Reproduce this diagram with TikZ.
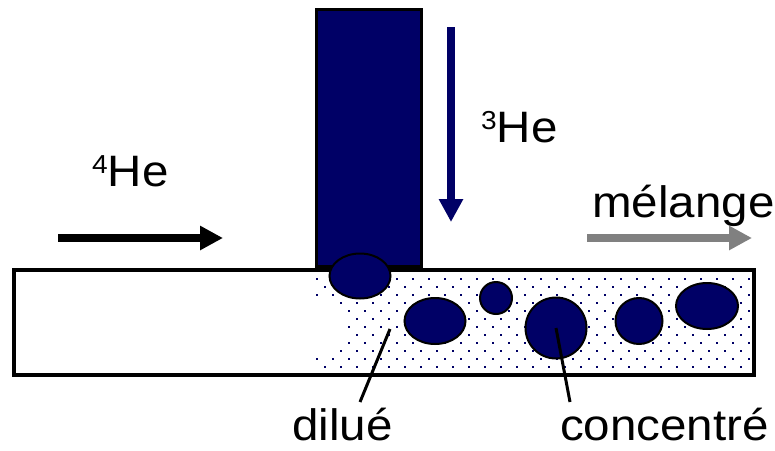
\documentclass[tikz,border=0pt]{standalone}
\usepackage{fontspec}
\setmainfont{Liberation Sans}[FakeStretch=1.08]
\usetikzlibrary{arrows.meta,shapes.geometric}
\definecolor{navy}{RGB}{0,0,102}
\definecolor{flowgray}{RGB}{128,128,128}
\newcommand{\isotope}[1]{{\fontsize{26}{26}\selectfont\raisebox{13pt}{#1}}}
\begin{document}
\begin{tikzpicture}[x=1pt,y=-1pt,
  bubble/.style={ellipse,draw=black,fill=navy,line width=2pt,inner sep=0pt},
  lbl/.style={anchor=base west,inner sep=0pt,font=\fontsize{44}{52}\selectfont},
  flow/.style={line width=8pt,-{Triangle[width=23pt,length=23pt]}},
  leader/.style={line width=3pt,black}]
\useasboundingbox (0,0) rectangle (775,450);
\fill[white] (0,0) rectangle (775,450);
% dotted mixture region
\foreach \yy/\xs in {271/325,279/317,287/325,295/317,303/341,311/349,319/357,327/349,335/357,343/349,351/341,359/317,367/325} {
  \pgfmathtruncatemacro{\xn}{\xs+16}
  \foreach \xx in {\xs,\xn,...,749} \fill[navy] (\xx-1,\yy-1) rectangle ++(2,2);
}
% tube
\node[draw=black,fill=navy,line width=3pt,minimum width=105pt,minimum height=257pt,inner sep=0pt,anchor=south west] (tube) at (315,268) {};
% bath
\node[draw=black,line width=4pt,minimum width=740pt,minimum height=105pt,inner sep=0pt,anchor=north west] (bath) at (12,268) {};
% bubbles
\node[bubble,minimum width=61pt,minimum height=45pt] (b1) at (360,276) {};
\node[bubble,minimum width=61pt,minimum height=46pt] (b2) at (435,321) {};
\node[bubble,minimum width=32pt,minimum height=32pt] (b3) at (496,298) {};
\node[bubble,minimum width=61pt,minimum height=61pt] (b4) at (556,328) {};
\node[bubble,minimum width=47pt,minimum height=46pt] (b5) at (639,321) {};
\node[bubble,minimum width=62pt,minimum height=46pt] (b6) at (707,306) {};
% leaders
\coordinate (dtip) at (390,329);
\coordinate (dend) at (360,402);
\coordinate (cend) at (570,402);
\draw[leader] (dtip) -- (dend);
\draw[leader] (b4.center) -- (cend);
% flows
\coordinate (f4a) at (58,238);
\coordinate (f4b) at (223,238);
\coordinate (f3a) at (451,27);
\coordinate (f3b) at (451,222);
\coordinate (fma) at (587,238);
\coordinate (fmb) at (752,238);
\draw[flow,black] (f4a) -- (f4b);
\draw[flow,navy,line width=7.5pt] (f3a) -- (f3b);
\draw[flow,flowgray] (fma) -- (fmb);
% labels
\node[lbl] (he4) at (92,186) {\isotope{4}He};
\node[lbl] (he3) at (481,142) {\isotope{3}He};
\node[lbl] (mel) at (592,217) {mélange};
\node[lbl] (dil) at (292,440) {dilué};
\node[lbl] (con) at (560,440) {concentré};
\end{tikzpicture}
\end{document}
